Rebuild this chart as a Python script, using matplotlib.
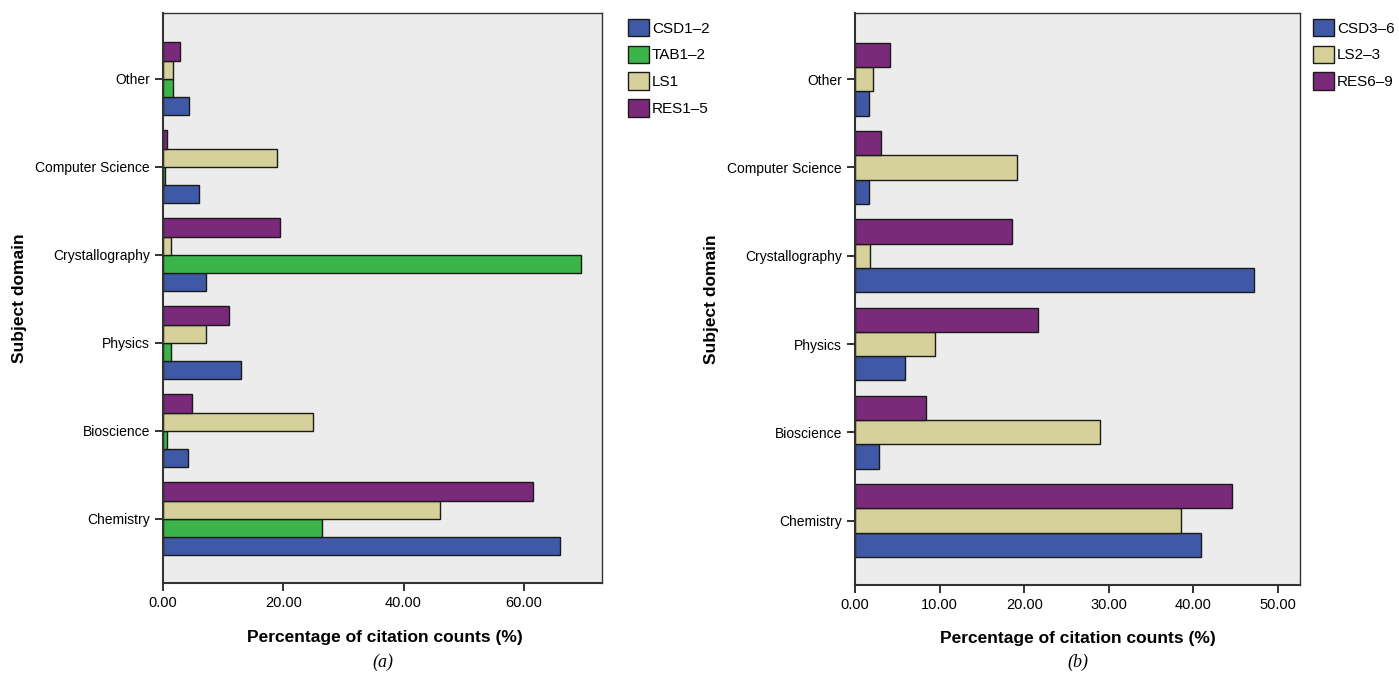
import matplotlib
matplotlib.use("Agg")
import matplotlib.pyplot as plt
import numpy as np

plt.rcParams['font.family'] = ['Liberation Sans', 'DejaVu Sans']

categories = ["Chemistry", "Bioscience", "Physics", "Crystallography", "Computer Science", "Other"]

# Panel (a)
series_a = ["CSD1\u20132", "TAB1\u20132", "LS1", "RES1\u20135"]
csd_a = [66.0, 4.1, 12.9, 7.1, 6.0, 4.4]
tab_a = [26.5, 0.6, 1.4, 69.5, 0.4, 1.7]
ls1_a = [46.0, 25.0, 7.2, 1.4, 19.0, 1.6]
res_a = [61.6, 4.9, 11.0, 19.4, 0.6, 2.8]
ticks_a = [0, 20, 40, 60]

# Panel (b)
series_b = ["CSD3\u20136", "LS2\u20133", "RES6\u20139"]
csd_b = [40.9, 2.8, 5.9, 47.2, 1.6, 1.6]
ls_b = [38.5, 29.0, 9.5, 1.8, 19.1, 2.1]
res_b = [44.6, 8.4, 21.6, 18.5, 3.1, 4.1]
ticks_b = [0, 10, 20, 30, 40, 50]

c_blue = "#3f59a6"
c_green = "#3bb54a"
c_beige = "#d6d09b"
c_purple = "#7b2a7b"
bg = "#ececec"

fig = plt.figure(figsize=(13.99, 6.78), dpi=100)
ax1 = fig.add_axes([163/1399, 1-583/678, (602-163)/1399, (583-13)/678])
ax2 = fig.add_axes([855/1399, 1-585/678, (1300-855)/1399, (585-13)/678])


def draw(ax, data, colors, labels, group_w, xlim, ticks, legend_x):
    n = len(data)
    h = group_w / n
    y = np.arange(len(categories))
    for i, (vals, col, lab) in enumerate(zip(data, colors, labels)):
        off = -group_w / 2 + h * (i + 0.5)
        ax.barh(y + off, vals, height=h, color=col, edgecolor="#1a1a1a",
                linewidth=1.0, label=lab)
    ax.set_facecolor(bg)
    ax.set_xlim(0, xlim)
    ax.set_ylim(-0.73, 5.75)
    ax.set_yticks(y)
    ax.set_yticklabels(categories, fontsize=10)
    ax.set_xticks(ticks)
    ax.set_xticklabels([f"{t:.2f}" for t in ticks], fontsize=10.5)
    ax.tick_params(axis='both', length=6, width=1.2, color="#111111")
    for s in ax.spines.values():
        s.set_color("#333333")
        s.set_linewidth(1.0)
    ax.spines['left'].set_linewidth(1.5)
    ax.spines['bottom'].set_linewidth(1.5)
    ax.set_xlabel("Percentage of citation counts (%)", fontsize=12.5, fontweight='bold')
    ax.set_ylabel("Subject domain", fontsize=12.5, fontweight='bold')
    handles, labs = ax.get_legend_handles_labels()
    ax.legend(handles, labs, loc='upper left', bbox_to_anchor=legend_x,
              frameon=False, fontsize=11, handlelength=1.35, handleheight=1.4,
              labelspacing=0.6, handletextpad=0.2, borderaxespad=0,
              borderpad=0)


draw(ax1, [csd_a, tab_a, ls1_a, res_a], [c_blue, c_green, c_beige, c_purple],
     series_a, 0.83, 73.0, ticks_a, (1.06, 0.99))
ax1.xaxis.set_label_coords(0.505, -0.083)
ax1.yaxis.set_label_coords(-0.31, 0.5)

draw(ax2, [csd_b, ls_b, res_b], [c_blue, c_beige, c_purple],
     series_b, 0.825, 52.6, ticks_b, (1.03, 0.99))
ax2.xaxis.set_label_coords(0.50, -0.080)
ax2.yaxis.set_label_coords(-0.306, 0.5)

fig.text(383/1399, 1-662/678, "(a)", fontsize=13, style='italic',
         family=['Liberation Serif', 'DejaVu Serif'], ha='center', va='center')
fig.text(1078/1399, 1-662/678, "(b)", fontsize=13, style='italic',
         family=['Liberation Serif', 'DejaVu Serif'], ha='center', va='center')

fig.savefig("out.png", dpi=100)
